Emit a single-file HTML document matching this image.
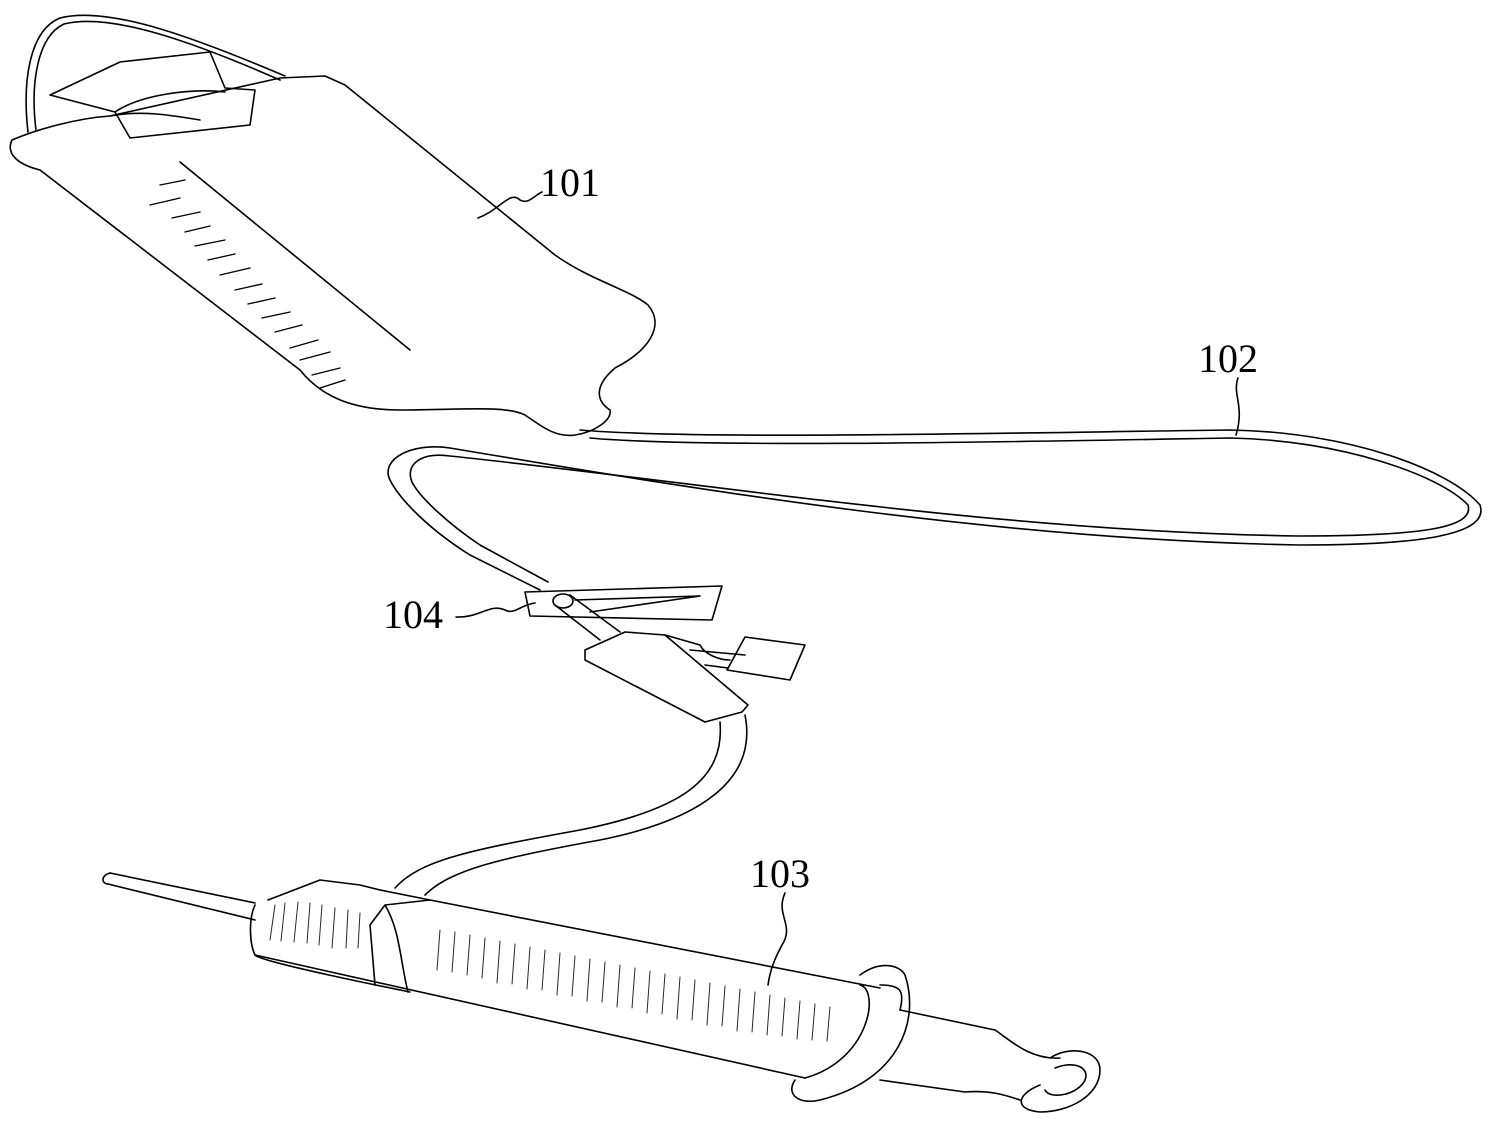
<!DOCTYPE html>
<html><head><meta charset="utf-8"><style>
html,body{margin:0;padding:0;background:#fff}
svg{display:block}
text{font-family:"Liberation Serif",serif;font-size:40px;fill:#000;stroke:none}
</style></head><body>
<svg width="1494" height="1128" viewBox="0 0 1494 1128" xmlns="http://www.w3.org/2000/svg" fill="none" stroke="#000" stroke-width="1.6" stroke-linejoin="round" stroke-linecap="round">
<path d="M28,132 C22,80 30,30 60,18 C110,5 200,40 285,76"/>
<path d="M36,130 C30,82 38,36 64,24 C112,12 198,44 280,80"/>
<path d="M12,140 C40,128 80,118 110,116 L280,78 L325,76 L345,85 L555,255 C590,280 630,290 648,305 C665,325 650,350 615,368 C595,385 595,400 610,410 C612,420 595,432 575,435 C555,438 540,425 525,415 C505,405 460,410 400,410 C350,410 320,395 300,370 L40,170 C20,165 5,155 12,140 Z"/>
<path d="M50,95 L120,62 L210,52 L225,88 L255,90 L250,125 L130,138 L115,112 Z"/>
<path d="M115,112 C140,95 190,88 225,92"/>
<path d="M110,116 C140,110 170,115 200,120"/>
<path d="M180,162 L410,350"/>
<g stroke-width="1.4">
<path d="M160,185 L185,180"/><path d="M150,205 L180,198"/><path d="M172,218 L200,212"/><path d="M185,232 L210,226"/>
<path d="M195,246 L225,240"/><path d="M208,260 L235,254"/><path d="M220,275 L250,268"/><path d="M235,290 L262,284"/>
<path d="M248,304 L275,298"/><path d="M262,318 L290,312"/><path d="M275,332 L302,325"/><path d="M290,348 L318,340"/>
<path d="M300,360 L330,352"/><path d="M312,375 L340,368"/><path d="M320,388 L345,380"/>
</g>
<path d="M580,430 C700,440 1000,433 1230,430 C1350,432 1450,470 1480,505 C1490,535 1420,545 1300,545 C1000,540 700,490 450,448 C410,442 380,460 390,480 C400,500 430,530 470,555 L540,590"/>
<path d="M590,438 C700,448 1000,442 1230,438 C1340,440 1440,475 1468,505 C1475,528 1420,536 1300,536 C1000,532 700,482 450,456 C420,452 405,465 412,482 C420,498 450,525 480,545 L548,582"/>
<path d="M525,592 L722,586 L712,620 L530,616 Z"/>
<path d="M575,600 L700,596 L590,612"/>
<ellipse cx="563" cy="601" rx="10" ry="7"/>
<path d="M555,605 L600,640 M570,595 L620,632"/>
<path d="M585,650 L625,632 L665,635 L748,705 L742,712 L705,722 L585,660 Z"/>
<path d="M665,635 L700,645 C705,655 720,660 730,660 M690,650 L745,655 M705,665 L728,668"/>
<path d="M745,637 L805,645 L790,680 L727,670 Z"/>
<path d="M720,722 C725,780 680,810 580,830 C470,850 420,860 395,888"/>
<path d="M745,715 C758,780 700,820 600,840 C500,858 450,870 425,895"/>
<path d="M110,873 L255,903 M108,884 L255,920"/>
<path d="M110,873 C100,876 102,884 108,884"/>
<path d="M268,900 L320,880 L360,885 L380,890 L430,900 L880,988"/>
<path d="M255,905 C248,920 250,945 255,955 L805,1078"/>
<path d="M255,955 C260,962 400,990 410,992"/>
<path d="M370,925 L385,905 L430,900 M370,925 L375,985 M385,905 C400,930 400,960 408,992"/>
<path d="M860,985 C880,990 870,1060 805,1078"/>
<path d="M860,975 C880,960 900,965 905,975 C920,1020 900,1080 820,1100 C800,1105 785,1095 795,1080"/>
<path d="M880,985 C900,985 905,990 900,1010"/>
<path d="M900,1010 L995,1030 C1010,1040 1030,1060 1060,1058"/>
<path d="M880,1080 L965,1092 C990,1090 1005,1095 1020,1100"/>
<path d="M1050,1058 C1070,1045 1100,1050 1100,1070 C1100,1095 1070,1112 1040,1112 C1015,1110 1015,1095 1040,1085"/>
<path d="M1055,1068 C1075,1060 1090,1068 1085,1080 C1078,1095 1050,1100 1045,1090"/>
<g stroke-width="1" opacity="0.85">
<path d="M275,905 l-5,35 M285,903 l-4,38 M298,902 l-4,40 M310,903 l-3,40 M322,905 l-3,40 M335,908 l-3,40 M348,910 l-2,38 M360,913 l-2,35"/>
<path d="M440,930 l-3,40 M455,932 l-3,40 M470,935 l-3,40 M485,938 l-3,40 M500,941 l-3,42 M515,944 l-3,40 M530,947 l-3,42 M545,950 l-3,40 M560,953 l-3,42 M575,956 l-3,40 M590,959 l-3,42 M605,962 l-3,40 M620,965 l-3,42 M635,968 l-3,40 M650,971 l-3,42 M665,974 l-3,40 M680,977 l-3,42 M695,980 l-3,40 M710,983 l-3,42 M725,986 l-3,40 M740,989 l-3,42 M755,992 l-3,40 M770,995 l-3,40 M785,998 l-3,38 M800,1001 l-3,38 M815,1004 l-3,36 M830,1007 l-3,34"/>
</g>
<text x="540" y="196">101</text>
<path d="M478,218 C500,210 510,190 520,200 C528,205 535,195 542,192"/>
<text x="1198" y="372">102</text>
<path d="M1238,378 C1232,395 1245,405 1236,435"/>
<text x="750" y="887">103</text>
<path d="M785,893 C775,915 795,925 782,945 C775,958 770,970 768,985"/>
<text x="383" y="628">104</text>
<path d="M456,617 C480,618 490,603 505,610 C515,615 520,605 535,603"/>
</svg>
</body></html>
